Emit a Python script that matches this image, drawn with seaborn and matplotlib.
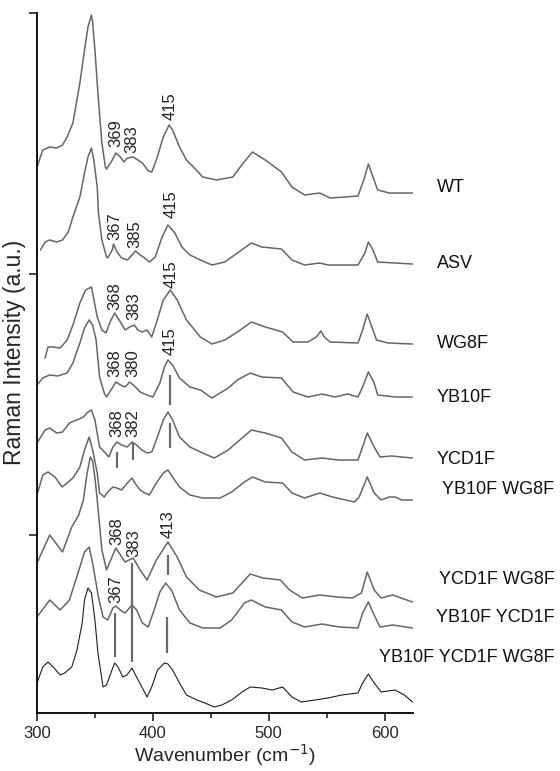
import matplotlib
matplotlib.use("Agg")
import matplotlib.pyplot as plt
import seaborn as sns

# Raman spectra (wavenumber cm-1, offset intensity a.u.)
wt_wn = [300, 305, 311, 317, 322, 326, 331, 337, 341, 344, 347, 348, 350, 353, 356, 359, 360, 365, 368, 372,
         375, 378, 383, 387, 391, 396, 399, 403, 409, 414, 417, 423, 429, 435, 443, 455, 469, 478, 486, 497,
         511, 520, 531, 544, 553, 566, 577, 582, 586, 590, 594, 604, 624]
wt_y = [546, 563, 566, 565, 568, 576, 590, 630, 663, 686, 698, 691, 663, 613, 570, 546, 544, 553, 560, 556,
        551, 555, 556, 553, 550, 542, 541, 553, 576, 588, 583, 566, 553, 546, 536, 533, 536, 550, 561, 553,
        541, 526, 518, 520, 515, 516, 517, 533, 549, 536, 523, 520, 520]

asv_wn = [303, 307, 311, 317, 322, 327, 331, 337, 341, 344, 347, 349, 352, 353, 356, 360, 361, 365, 366, 369,
          373, 378, 382, 385, 389, 393, 397, 402, 408, 413, 419, 425, 432, 441, 451, 462, 473, 485, 494, 511,
          520, 531, 544, 551, 577, 583, 586, 590, 594, 609, 624]
asv_y = [463, 471, 473, 471, 473, 481, 496, 516, 540, 556, 565, 553, 526, 500, 473, 456, 455, 463, 469, 461,
         455, 453, 458, 462, 458, 455, 451, 456, 476, 488, 480, 466, 458, 453, 448, 451, 460, 470, 466, 464,
         453, 448, 450, 448, 448, 460, 471, 463, 451, 450, 449]

wg8f_wn = [307, 309.5, 314, 320, 326, 331, 337, 342, 347, 352, 356, 359.5, 363, 367, 372, 376, 380, 384, 387, 391,
           395, 399, 403, 409, 415, 421, 429, 441, 451, 462, 473, 485, 497, 512, 521, 534, 541, 545, 548, 553,
           577, 581, 585, 589, 593, 603, 624]
wg8f_y = [355, 366, 366, 365, 373, 388, 410, 423, 426, 396, 383, 380, 391, 400, 391, 383, 386, 388, 383, 381,
          383, 376, 390, 413, 423, 413, 393, 376, 369, 373, 381, 391, 386, 381, 371, 371, 376, 382, 376, 371,
          370, 383, 399, 386, 373, 370, 369]

yb10f_wn = [300, 305, 311, 318, 326, 331, 337, 341, 345, 348, 351, 354, 358, 360, 365, 368, 372, 376, 380, 385,
            389, 395, 400, 406, 410, 413, 417, 423, 432, 441, 451, 465, 473, 484, 494, 511, 521, 534, 546, 557,
            568, 577, 581, 586, 591, 594, 609, 624]
yb10f_y = [328, 335, 338, 337, 340, 350, 370, 385, 393, 388, 373, 336, 320, 316, 325, 331, 328, 326, 331, 326,
           321, 318, 316, 330, 346, 353, 348, 335, 326, 323, 315, 325, 333, 340, 336, 335, 321, 316, 319, 316,
           319, 316, 326, 341, 330, 318, 316, 316]

ycd1f_wn = [300, 307, 311, 317, 322, 328, 334.5, 340, 344, 347, 350, 354, 359, 362, 365.5, 369, 373, 378, 382, 386,
            390.5, 395, 399, 403, 409, 413, 417, 423, 432, 443, 453, 465, 477, 485, 497, 511, 520, 531, 546, 560,
            577, 581, 585, 591, 596, 606, 624]
ycd1f_y = [270, 283, 285, 280, 281, 290, 293, 296, 301, 303, 293, 266, 260, 256, 266, 271, 268, 266, 271, 268,
           263, 260, 261, 273, 293, 301, 293, 276, 266, 260, 255, 263, 275, 283, 280, 275, 261, 253, 255, 253,
           253, 266, 280, 266, 256, 257, 255]

yb_wg_wn = [300, 305, 309.5, 315.5, 321.6, 326, 331, 337, 341, 345, 348, 352, 354, 358, 361, 365.5, 369, 373, 378, 382,
            384.5, 389, 393, 397, 403, 409, 413, 417, 423, 432, 443, 458, 468, 479, 486, 497, 512, 520, 531, 544,
            555, 574, 578, 585, 591, 597, 604, 609, 615, 624]
yb_wg_y = [218, 238, 241, 236, 226, 230, 235, 246, 263, 276, 263, 240, 220, 216, 221, 226, 225, 223, 230, 235,
           230, 223, 220, 218, 230, 240, 243, 236, 226, 218, 215, 215, 221, 231, 236, 231, 230, 220, 215, 220,
           216, 211, 216, 236, 220, 213, 216, 216, 213, 213]

ycd_wg_wn = [300, 311, 322, 330, 336, 340, 343, 346, 348, 350, 352, 356, 360, 368, 376, 383, 389, 395, 403, 413,
             421, 429, 440, 455, 469, 484, 495, 510, 518, 529, 544, 559, 572, 580, 585, 591, 597, 607, 624]
ycd_wg_y = [150, 178, 161, 186, 198, 213, 238, 256, 252, 235, 213, 163, 143, 165, 151, 155, 143, 133, 153, 171,
            156, 136, 123, 116, 120, 139, 135, 133, 123, 115, 118, 116, 115, 120, 141, 123, 115, 118, 111]

yb_ycd_wn = [300, 311, 320, 328, 337, 341, 345, 348, 353, 357, 361, 365.5, 368, 373, 376, 382, 386, 391, 396, 402,
             406, 411, 416, 423, 432, 443, 458, 468, 479, 485, 497, 511, 520, 531, 546, 561, 577, 581, 586, 591,
             596, 607, 624]
yb_ycd_y = [96, 113, 103, 113, 146, 161, 166, 150, 116, 96, 93, 105, 107, 102, 100, 108, 103, 90, 86, 106,
            121, 130, 123, 103, 90, 85, 85, 93, 110, 113, 106, 103, 91, 86, 89, 86, 85, 100, 111, 98,
            86, 88, 85]

triple_wn = [300, 305, 309.5, 314, 320, 324, 330, 334.5, 339, 341, 344, 347, 350, 352.6, 357, 360, 364.7, 367, 370, 374,
             377.6, 382, 385, 390.5, 395, 399, 404, 410, 413, 417, 423, 429, 438, 445, 453, 459.5, 468, 477, 484, 494,
             503, 512, 520, 528, 540, 551, 563, 577, 581, 586, 591, 597, 609, 617, 624]
triple_y = [30, 46, 51, 46, 38, 40, 46, 63, 90, 113, 125, 120, 93, 60, 26, 28, 43, 50, 46, 36,
            38, 45, 38, 26, 16, 26, 43, 50, 49, 43, 30, 18, 13, 10, 6, 8, 13, 21, 26, 25,
            23, 26, 16, 11, 13, 15, 18, 20, 30, 39, 30, 21, 23, 18, 11]

sample_names = ["WT", "ASV", "WG8F", "YB10F", "YCD1F", "YB10F WG8F",
                "YCD1F WG8F", "YB10F YCD1F", "YB10F YCD1F WG8F"]

# peak annotations: text, wavenumber, intensity at bottom of text
peak_text = ["369", "383", "415", "367", "385", "415", "368", "383", "415",
             "368", "380", "415", "368", "382", "368", "383", "413", "367"]
peak_wn = [368, 382, 415, 367.5, 384.5, 416, 367.5, 383.5, 415.5,
           367.5, 382.5, 414.5, 369, 382.5, 369, 383.5, 413, 368]
peak_y = [566, 560, 593, 473, 465, 495, 403, 393, 425,
          336, 336, 358, 276, 276, 168, 156, 175, 110]

# vertical guide bars
bar_wn = [414.7, 369, 382.8, 414.7, 413, 382, 367.2, 412]
bar_top = [338, 261, 270, 290, 158, 150, 100, 96]
bar_bottom = [308, 245, 253, 265, 138, 51, 56, 60]

curves = [(wt_wn, wt_y), (asv_wn, asv_y), (wg8f_wn, wg8f_y), (yb10f_wn, yb10f_y),
          (ycd1f_wn, ycd1f_y), (yb_wg_wn, yb_wg_y), (ycd_wg_wn, ycd_wg_y),
          (yb_ycd_wn, yb_ycd_y), (triple_wn, triple_y)]

sns.set_theme(style="ticks")
plt.rcParams['font.family'] = ['Liberation Sans', 'DejaVu Sans']

fig = plt.figure(figsize=(5.6, 7.71), dpi=100)
ax = fig.add_axes([37 / 560, 58 / 771, 376 / 560, 700 / 771])

for i, (wn, y) in enumerate(curves):
    last = i == len(curves) - 1
    sns.lineplot(x=wn, y=y, ax=ax, sort=False, estimator=None,
                 color='#1e1e1e' if last else '#666666', lw=0.8 if last else 1.1)

ax.vlines(bar_wn, bar_bottom, bar_top, color='#6a6a6a', lw=1.6)

for t, x, y in zip(peak_text, peak_wn, peak_y):
    ax.text(x, y, t, rotation=90, ha='center', va='bottom', fontsize=12, color='#222222')

# sample labels to the right of the plot
label_x = [644.8] * 5 + [746.6] * 4
label_y = [526, 450, 370, 316, 253, 223, 133, 96, 56]
label_ha = ['left'] * 5 + ['right'] * 4
for name, x, y, ha in zip(sample_names, label_x, label_y, label_ha):
    ax.text(x, y, name, ha=ha, va='center', fontsize=13, color='#111111', clip_on=False)

ax.set_xlim(300, 624.5)
ax.set_ylim(0, 700)
ax.set_xticks([300, 400, 500, 600])
ax.set_xticks([350, 450, 550], minor=True)
ax.set_yticks([178, 439, 700])
ax.set_yticklabels([])
ax.tick_params(axis='x', which='major', length=6, width=1.2, labelsize=12, pad=3, color='#222222')
ax.tick_params(axis='x', which='minor', length=3.5, width=1.2, color='#222222')
ax.tick_params(axis='y', which='major', length=6, width=1.2, color='#222222')

for side in ['top', 'right']:
    ax.spines[side].set_visible(False)
for side in ['left', 'bottom']:
    ax.spines[side].set_linewidth(1.4)
    ax.spines[side].set_color('#111111')

ax.set_xlabel('Wavenumber (cm$^{-1}$)', fontsize=14, labelpad=1)
ax.set_ylabel('Raman Intensity (a.u.)', fontsize=16.5)
ax.yaxis.set_label_coords(-0.03, 0.515)

fig.savefig('out.png', dpi=100)
